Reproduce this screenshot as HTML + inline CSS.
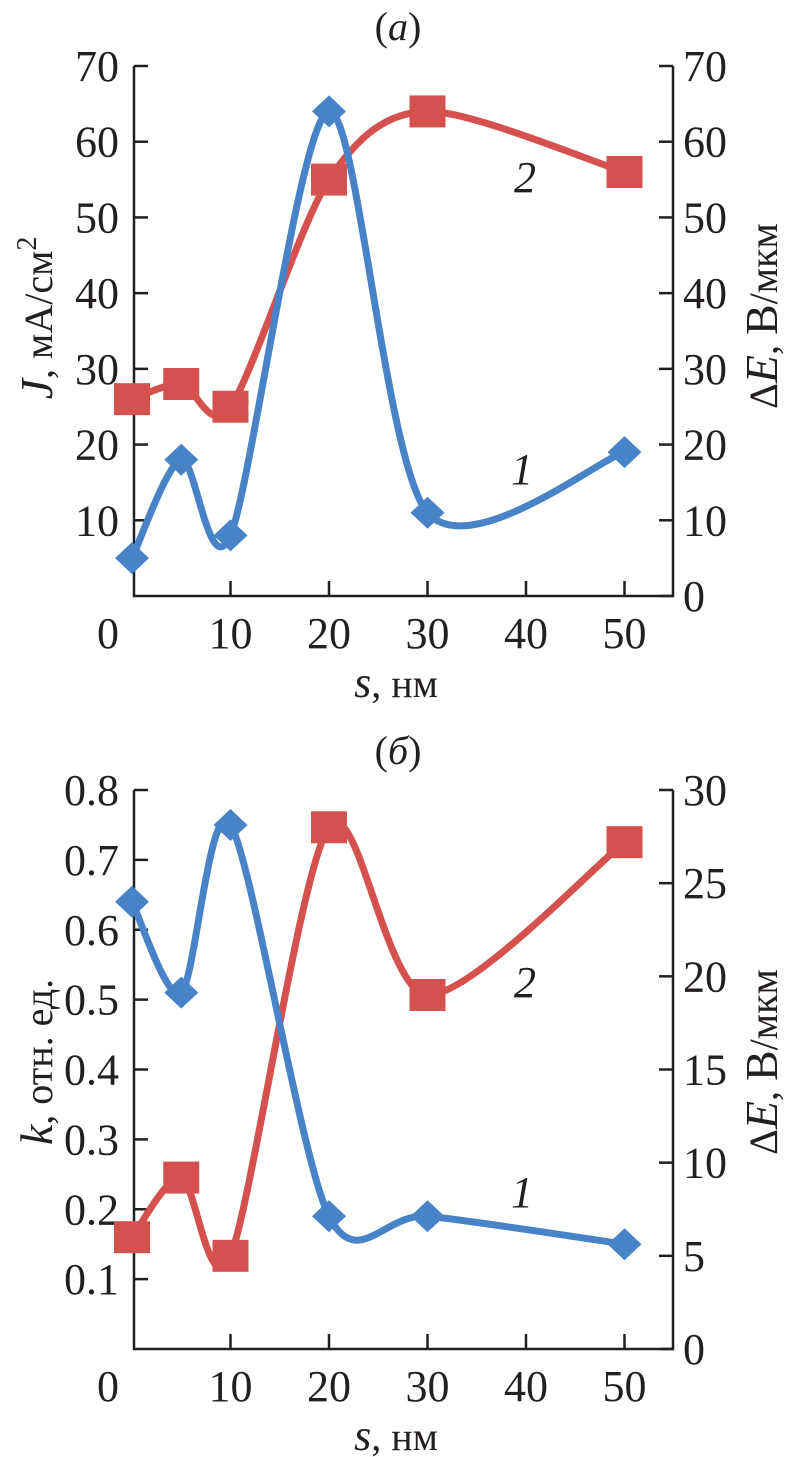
<!DOCTYPE html>
<html><head><meta charset="utf-8"><style>
html,body{margin:0;padding:0;background:#fff}
svg{display:block}
text{font-family:"Liberation Serif","Times New Roman",serif;fill:#231f20}
</style></head><body>
<svg id="chart" width="788" height="1457" viewBox="0 0 788 1457" xmlns="http://www.w3.org/2000/svg"></svg>
<script>
const xCats = [0, 5, 10, 20, 30, 50];
const xTicks = [10, 20, 30, 40, 50];
const aJ = [5, 18, 8, 64, 11, 19];
const aE = [26, 28, 25, 55, 64, 56];
const aLeftTicks = [0, 10, 20, 30, 40, 50, 60, 70];
const aRightTicks = [0, 10, 20, 30, 40, 50, 60, 70];
const bK = [0.64, 0.51, 0.75, 0.19, 0.19, 0.15];
const bE = [6, 9.2, 5, 28, 19, 27.2];
const bLeftTicks = [0.1, 0.2, 0.3, 0.4, 0.5, 0.6, 0.7, 0.8];
const bLeftLabels = ['0.1','0.2','0.3','0.4','0.5','0.6','0.7','0.8'];
const bRightTicks = [0, 5, 10, 15, 20, 25, 30];

const svg = document.getElementById('chart');
const NS = 'http://www.w3.org/2000/svg';
function mk(tag, attrs, parent){const e=document.createElementNS(NS,tag);for(const k in attrs)e.setAttribute(k,attrs[k]);(parent||svg).appendChild(e);return e;}
const BLUE='#4783c6', RED='#d5514f';
const L=134, R=673;
function sx(v){return 132+v*9.85;}
function smooth(pts){
  let d='M'+pts[0][0]+','+pts[0][1];
  for(let i=0;i<pts.length-1;i++){
    const p0=pts[i-1]||pts[i],p1=pts[i],p2=pts[i+1],p3=pts[i+2]||p2;
    const t=1/7;
    d+=' C'+(p1[0]+(p2[0]-p0[0])*t)+','+(p1[1]+(p2[1]-p0[1])*t)+' '+(p2[0]-(p3[0]-p1[0])*t)+','+(p2[1]-(p3[1]-p1[1])*t)+' '+p2[0]+','+p2[1];
  }
  return d;
}
function panel(o){
  const g=mk('g',{});
  
  
  const yL=v=>o.bot-(v-o.lMin)/(o.lMax-o.lMin)*(o.bot-o.top);
  const yR=v=>o.bot-v/o.rMax*(o.bot-o.top);
  const ax=mk('path',{d:`M${L},${o.top} L${L},${o.bot} L${R},${o.bot} L${R},${o.top}`,fill:'none',stroke:'#231f20','stroke-width':2.5},g);
  
  
  o.lTicks.forEach((v,i)=>{
    const y=yL(v);
    mk('line',{x1:L,x2:L+14,y1:y,y2:y,stroke:'#231f20','stroke-width':2.5},g);
    const t=mk('text',{x:119,y:y+15,'font-size':44,'text-anchor':'end'},g);
    t.textContent=o.lLabels?o.lLabels[i]:v;
    
    
  });
  o.rTicks.forEach(v=>{
    const y=yR(v);
    mk('line',{x1:R-14,x2:R,y1:y,y2:y,stroke:'#231f20','stroke-width':2.5},g);
    const t=mk('text',{x:683,y:y+15,'font-size':44},g);
    t.textContent=v;
    
    
  });
  xTicks.forEach(v=>{
    const x=sx(v);
    mk('line',{x1:x,x2:x,y1:o.bot-15,y2:o.bot,stroke:'#231f20','stroke-width':2.5},g);
  });
  [0].concat(xTicks).forEach(v=>{
    const t=mk('text',{x:v===0?108:sx(v),y:o.bot+52,'font-size':44,'text-anchor':'middle'},g);
    t.textContent=v;
    
    
  });
  const xt=mk('text',{x:396,y:o.bot+101,'font-size':40,'text-anchor':'middle'},g);
  xt.innerHTML='<tspan font-style="italic" font-size="44">s</tspan>, нм';
  
  
  const tt=mk('text',{x:398,y:o.top-26,'font-size':40,'text-anchor':'middle'},g);
  tt.innerHTML=o.title;
  
  
  const lt=mk('text',{x:0,y:0,'font-size':40,'text-anchor':'middle',transform:`translate(52,${o.lTitleY}) rotate(-90)`},g);
  lt.innerHTML=o.lTitle;
  
  
  const rt=mk('text',{x:0,y:0,'font-size':40,'text-anchor':'middle',transform:`translate(777,${o.rTitleY}) rotate(-90)`},g);
  rt.innerHTML='Δ<tspan font-style="italic" font-size="46">E</tspan>, <tspan font-size="46">В</tspan>/мкм';
  
  
  const pr=xCats.map((c,i)=>[sx(c),yR(o.s2[i])]);
  const pb=xCats.map((c,i)=>[sx(c),yL(o.s1[i])]);
  const l2=mk('path',{d:smooth(pr),fill:'none',stroke:RED,'stroke-width':7},g);
  
  
  const l1=mk('path',{d:smooth(pb),fill:'none',stroke:BLUE,'stroke-width':7},g);
  
  
  pr.forEach(p=>{
    const r=mk('rect',{x:p[0]-18,y:p[1]-16,width:36,height:32,fill:RED},g);
    
    
  });
  pb.forEach(p=>{
    const s=16;
    const m=mk('polygon',{points:`${p[0]},${p[1]-s} ${p[0]+s+1},${p[1]} ${p[0]},${p[1]+s} ${p[0]-s-1},${p[1]}`,fill:BLUE},g);
    
    
  });
  const c2=mk('text',{x:525,y:o.lab2Y+15,'font-size':44,'font-style':'italic','text-anchor':'middle'},g);
  c2.textContent='2';
  
  
  const c1=mk('text',{x:522,y:o.lab1Y+15,'font-size':44,'font-style':'italic','text-anchor':'middle'},g);
  c1.textContent='1';
  
  
}
panel({name:'panel-a',top:66,bot:596,lMin:0,lMax:70,rMax:70,lTicks:aLeftTicks.slice(1),rTicks:aRightTicks,s1:aJ,s2:aE,
  title:'(<tspan font-style="italic">а</tspan>)',lTitle:'<tspan font-style="italic" font-size="46">J</tspan>, мА/см<tspan font-size="28" dy="-16">2</tspan>',lTitleY:318,rTitleY:316,lab2Y:177,lab1Y:469});
panel({name:'panel-b',top:790,bot:1349,lMin:0,lMax:0.8,rMax:30,lTicks:bLeftTicks,lLabels:bLeftLabels,rTicks:bRightTicks,s1:bK,s2:bE,
  title:'(<tspan font-style="italic">б</tspan>)',lTitle:'<tspan font-style="italic" font-size="46">k</tspan>, отн. ед.',lTitleY:1062,rTitleY:1062,lab2Y:982,lab1Y:1192});
</script>
</body></html>
